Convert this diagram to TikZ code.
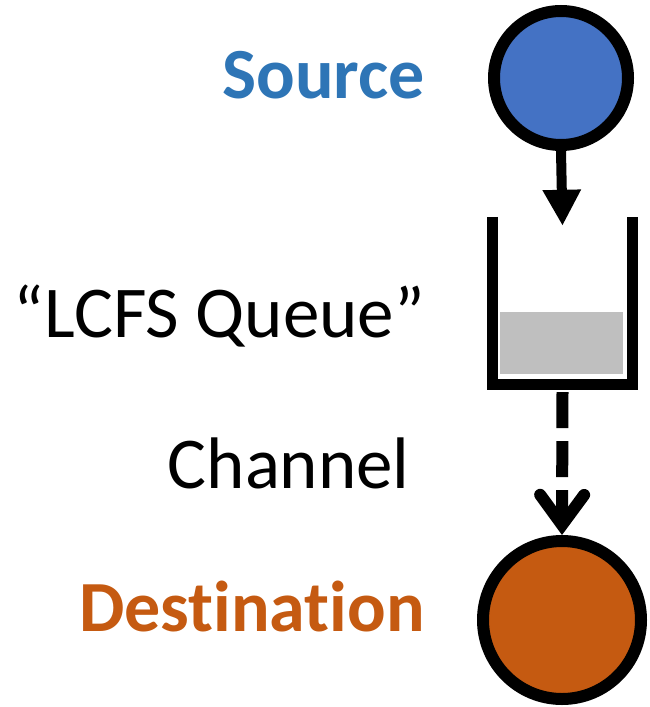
\documentclass[tikz,border=0pt]{standalone}
\usepackage{fontspec}
\setmainfont{Carlito}[Ligatures={NoCommon}]
\usepackage{xcolor}
\usetikzlibrary{arrows.meta,positioning}
\definecolor{srcblue}{HTML}{4472C4}
\definecolor{srctext}{HTML}{2E75B6}
\definecolor{dstorange}{HTML}{C55A11}
\definecolor{fillgray}{HTML}{BFBFBF}

\begin{document}
\begin{tikzpicture}[
    x=1pt,y=-1pt,
    station/.style={circle,draw=black,line width=12pt,inner sep=0pt},
    label/.style={anchor=base east,inner sep=0pt,font=\fontsize{73}{88}\selectfont},
    boldlabel/.style={label,font=\fontsize{72}{86}\selectfont\bfseries},
    arrow/.style={-{Triangle[length=36pt,width=36pt]},line width=10pt},
    dasharrow/.style={-{Straight Barb[length=30pt,width=44pt,line cap=round]},
                      line width=12pt,dash pattern=on 36pt off 13pt}
]
\useasboundingbox (0,0) rectangle (649,707);

\node[station,fill=srcblue,minimum size=134pt] (src) at (561,78) {};
\node[station,fill=dstorange,minimum size=158pt] (dst) at (562,620) {};
\node[rectangle,minimum width=140pt,minimum height=167pt,inner sep=0pt] (queue) at (562.5,300.5) {};

% queue buffer
\fill[fillgray] (500,312) rectangle (623,374);
\draw[line width=11pt,line join=miter] (queue.north west) |- (queue.south east) -- (queue.north east);

\node[boldlabel,text=srctext] (srclabel) at (425,98) {Source};
\node[label] (queuelabel) at (425,337) {“LCFS Queue”};
\node[label] (chanlabel) at (410,488) {Channel};
\node[boldlabel,text=dstorange] (dstlabel) at (425,631) {Destination};

\draw[arrow] (src.south) -- ([yshift=-9pt]queue.north);
\draw[dasharrow] ([yshift=-8pt]queue.south) -- (dst.north);
\end{tikzpicture}
\end{document}
